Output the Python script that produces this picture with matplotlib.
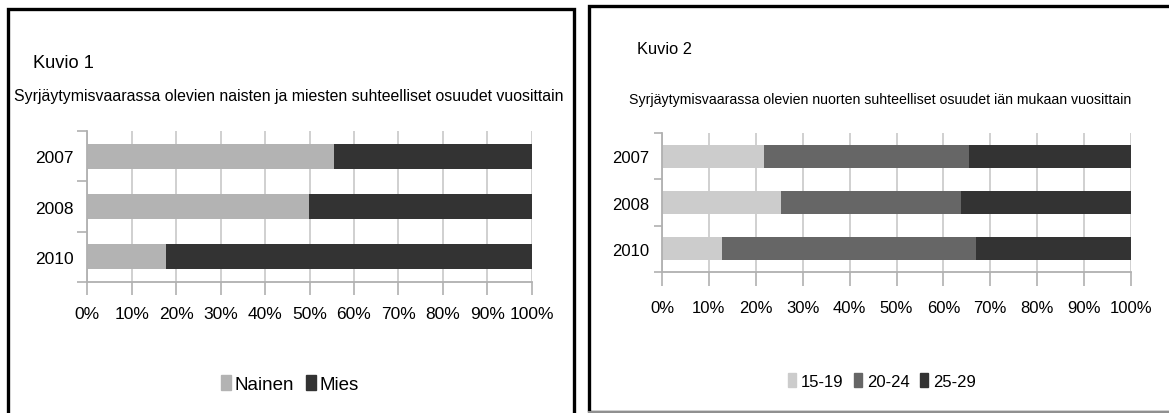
import matplotlib
matplotlib.use('Agg')
import matplotlib.pyplot as plt
from matplotlib import font_manager
from matplotlib.patches import Rectangle, Patch
import numpy as np

# ── data ─────────────────────────────────────────────
years = ['2007', '2008', '2010']

nainen = [55.5, 49.9, 17.7]
mies = [44.5, 50.1, 82.3]

age_labels = ['15-19', '20-24', '25-29']
age_15_19 = [21.7, 25.4, 12.8]
age_20_24 = [43.8, 38.4, 54.2]
age_25_29 = [34.5, 36.2, 33.0]

x_ticks = np.arange(0, 101, 10)
x_ticklabels = [f'{v}%' for v in x_ticks]

# ── font (narrow if available) ───────────────────────
names = {f.name for f in font_manager.fontManager.ttflist}
FONT = 'Liberation Sans Narrow' if 'Liberation Sans Narrow' in names else 'Liberation Sans'
plt.rcParams['font.family'] = [FONT, 'DejaVu Sans']

W, H = 1169, 414
fig = plt.figure(figsize=(W / 100, H / 100), dpi=100, facecolor='white')
renderer = fig.canvas.get_renderer()


def px_axes(x0, y0, x1, y1):
    # pixel box (top-left origin) -> figure axes
    return fig.add_axes([x0 / W, 1 - y1 / H, (x1 - x0) / W, (y1 - y0) / H])


def px_text(x0, x1, y, s, boost=1.0):
    # text whose left edge is x0, sized to end near x1
    t = fig.text(x0 / W, 1 - y / H, s, fontsize=10, va='center', ha='left')
    w = t.get_window_extent(renderer=renderer).width
    t.set_fontsize(10 * (x1 - x0) / w * boost)
    return t


def style_axes(ax, size, pad_x, ylen, xlen):
    ax.set_xlim(0, 100)
    ax.set_ylim(2.5, -0.5)
    ax.set_xticks(x_ticks)
    ax.set_xticklabels(x_ticklabels, fontsize=size)
    ax.set_yticks([-0.5, 0.5, 1.5, 2.5])
    ax.set_yticklabels([])
    ax.set_yticks([0, 1, 2], minor=True)
    ax.set_yticklabels(years, minor=True, fontsize=size)
    ax.tick_params(axis='y', which='major', length=ylen, color='#b0b0b0', width=1.2)
    ax.tick_params(axis='y', which='minor', length=0, pad=ylen + 3)
    ax.tick_params(axis='x', length=xlen, color='#b0b0b0', width=1.2, pad=pad_x)
    for s in ('top', 'right'):
        ax.spines[s].set_visible(False)
    for s in ('left', 'bottom'):
        ax.spines[s].set_color('#b0b0b0')
        ax.spines[s].set_linewidth(1.3)
    ax.grid(axis='x', color='#c8c8c8', linewidth=1.2)
    ax.set_axisbelow(True)


# ── panel frames ─────────────────────────────────────
fig.patches.append(Rectangle((7.5 / W, -0.1), (574 - 7.5) / W, 1.1 - 10.5 / H,
                             transform=fig.transFigure, fill=False,
                             edgecolor='black', linewidth=2.4))
fig.patches.append(Rectangle((589 / W, 1 - 412.5 / H), 1.2 - 589 / W, (412.5 - 6.5) / H,
                             transform=fig.transFigure, fill=False,
                             edgecolor='black', linewidth=2.4))
fig.lines.append(plt.Line2D([589 / W, 1], [1 - 412.5 / H] * 2, transform=fig.transFigure,
                            color='#909090', linewidth=1.5))

# ── Kuvio 1 ──────────────────────────────────────────
ax1 = px_axes(87.3, 132, 531.7, 283)
y = np.arange(len(years))
ax1.barh(y, nainen, height=0.5, color='#b3b3b3', label='Nainen')
ax1.barh(y, mies, left=nainen, height=0.5, color='#333333', label='Mies')
style_axes(ax1, 12.5, pad_x=8, ylen=7, xlen=9)

px_text(33, 86, 63, 'Kuvio 1', boost=1.15)
px_text(14, 566, 97, 'Syrjäytymisvaarassa olevien naisten ja miesten suhteelliset osuudet vuosittain')
fig.legend(handles=[Patch(color='#b3b3b3'), Patch(color='#333333')],
           labels=['Nainen', 'Mies'], loc='center', bbox_to_anchor=(290 / W, 1 - 385 / H),
           ncol=2, frameon=False, fontsize=13.5, handlelength=0.55, handleheight=0.85,
           handletextpad=0.2, columnspacing=0.6)

# ── Kuvio 2 ──────────────────────────────────────────
ax2 = px_axes(662, 134, 1131, 273)
left2 = np.array(age_15_19)
ax2.barh(y, age_15_19, height=0.5, color='#cccccc')
ax2.barh(y, age_20_24, left=left2, height=0.5, color='#666666')
ax2.barh(y, age_25_29, left=left2 + np.array(age_20_24), height=0.5, color='#333333')
style_axes(ax2, 12, pad_x=10, ylen=6, xlen=10)

px_text(637, 685, 49, 'Kuvio 2', boost=1.15)
px_text(629, 1132, 100, 'Syrjäytymisvaarassa olevien nuorten suhteelliset osuudet iän mukaan vuosittain')
fig.legend(handles=[Patch(color=c) for c in ('#cccccc', '#666666', '#333333')],
           labels=age_labels, loc='center', bbox_to_anchor=(882 / W, 1 - 382 / H),
           ncol=3, frameon=False, fontsize=12, handlelength=0.5, handleheight=0.85,
           handletextpad=0.3, columnspacing=0.6)

fig.savefig('out.png', dpi=100, facecolor='white')
